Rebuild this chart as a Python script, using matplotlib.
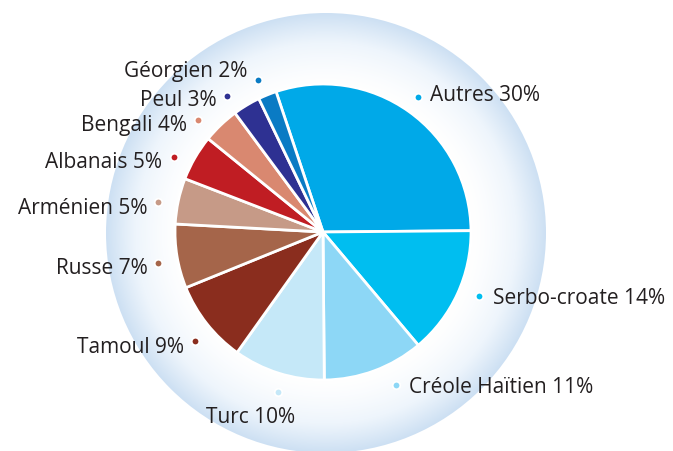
import numpy as np
import matplotlib.pyplot as plt
from matplotlib.patches import Circle
from matplotlib.colors import LinearSegmentedColormap

plt.rcParams['font.family'] = ['Open Sans', 'DejaVu Sans']

# data
languages = ['Autres', 'Serbo-croate', 'Créole Haïtien', 'Turc', 'Tamoul', 'Russe',
             'Arménien', 'Albanais', 'Bengali', 'Peul', 'Géorgien']
shares = [30, 14, 11, 10, 9, 7, 5, 5, 4, 3, 2]
colors = ['#00a9e8', '#00bef0', '#8dd7f6', '#c5e8f8', '#8a2d1e', '#a5654a',
          '#c69a87', '#c01d23', '#d98870', '#2e3192', '#0a7bc4']

# label layout in pixel units: dot x, dot y, text x, text baseline y, alignment
dots = [(418, 98), (479, 297), (396, 386), (278, 393), (195, 342), (158, 264),
        (158, 203), (174, 158), (198, 121), (227, 97), (258, 81)]
texts = [(430, 101, 'left'), (493, 304, 'left'), (409, 393, 'left'), (251, 423, 'center'),
         (184, 353, 'right'), (148, 274, 'right'), (148, 214, 'right'), (162, 168, 'right'),
         (187, 131, 'right'), (217, 106, 'right'), (247, 77, 'right')]

W, H = 673, 452
fig = plt.figure(figsize=(W / 100, H / 100), dpi=100)
ax = fig.add_axes([0, 0, 1, 1])

cx, cy = 323, H - 233
r_pie = 148
hx, hy = 326, H - 234
r_halo = 220

# radial gradient halo
xs = np.linspace(0, W, 700)
ys = np.linspace(0, H, 470)
X, Y = np.meshgrid(xs, ys)
R = np.hypot(X - hx, Y - hy)
t = np.clip((R - 145) / (r_halo - 145), 0, 1) ** 1.4
cmap = LinearSegmentedColormap.from_list('halo', ['#ffffff', '#eef5fc', '#cde0f3'])
img = ax.imshow(t, extent=(0, W, 0, H), origin='lower', cmap=cmap, vmin=0, vmax=1,
                zorder=0, interpolation='bilinear')
img.set_clip_path(Circle((hx, hy), r_halo, transform=ax.transData))

ax.pie(shares, colors=colors, startangle=108.5, counterclock=False,
       center=(cx, cy), radius=r_pie, frame=True,
       wedgeprops=dict(edgecolor='white', linewidth=2))

for name, share, col, (dx, dy), (tx, ty, ha) in zip(languages, shares, colors, dots, texts):
    ax.scatter([dx], [H - dy], s=30, color=col, edgecolor='white', linewidth=1.3, zorder=5)
    ax.text(tx, H - ty, f'{name} {share}%', ha=ha, va='baseline', fontsize=15,
            color='#231f20')

ax.set_xlim(0, W)
ax.set_ylim(0, H)
ax.set_aspect('equal')
ax.axis('off')

fig.savefig('out.png', dpi=100)
